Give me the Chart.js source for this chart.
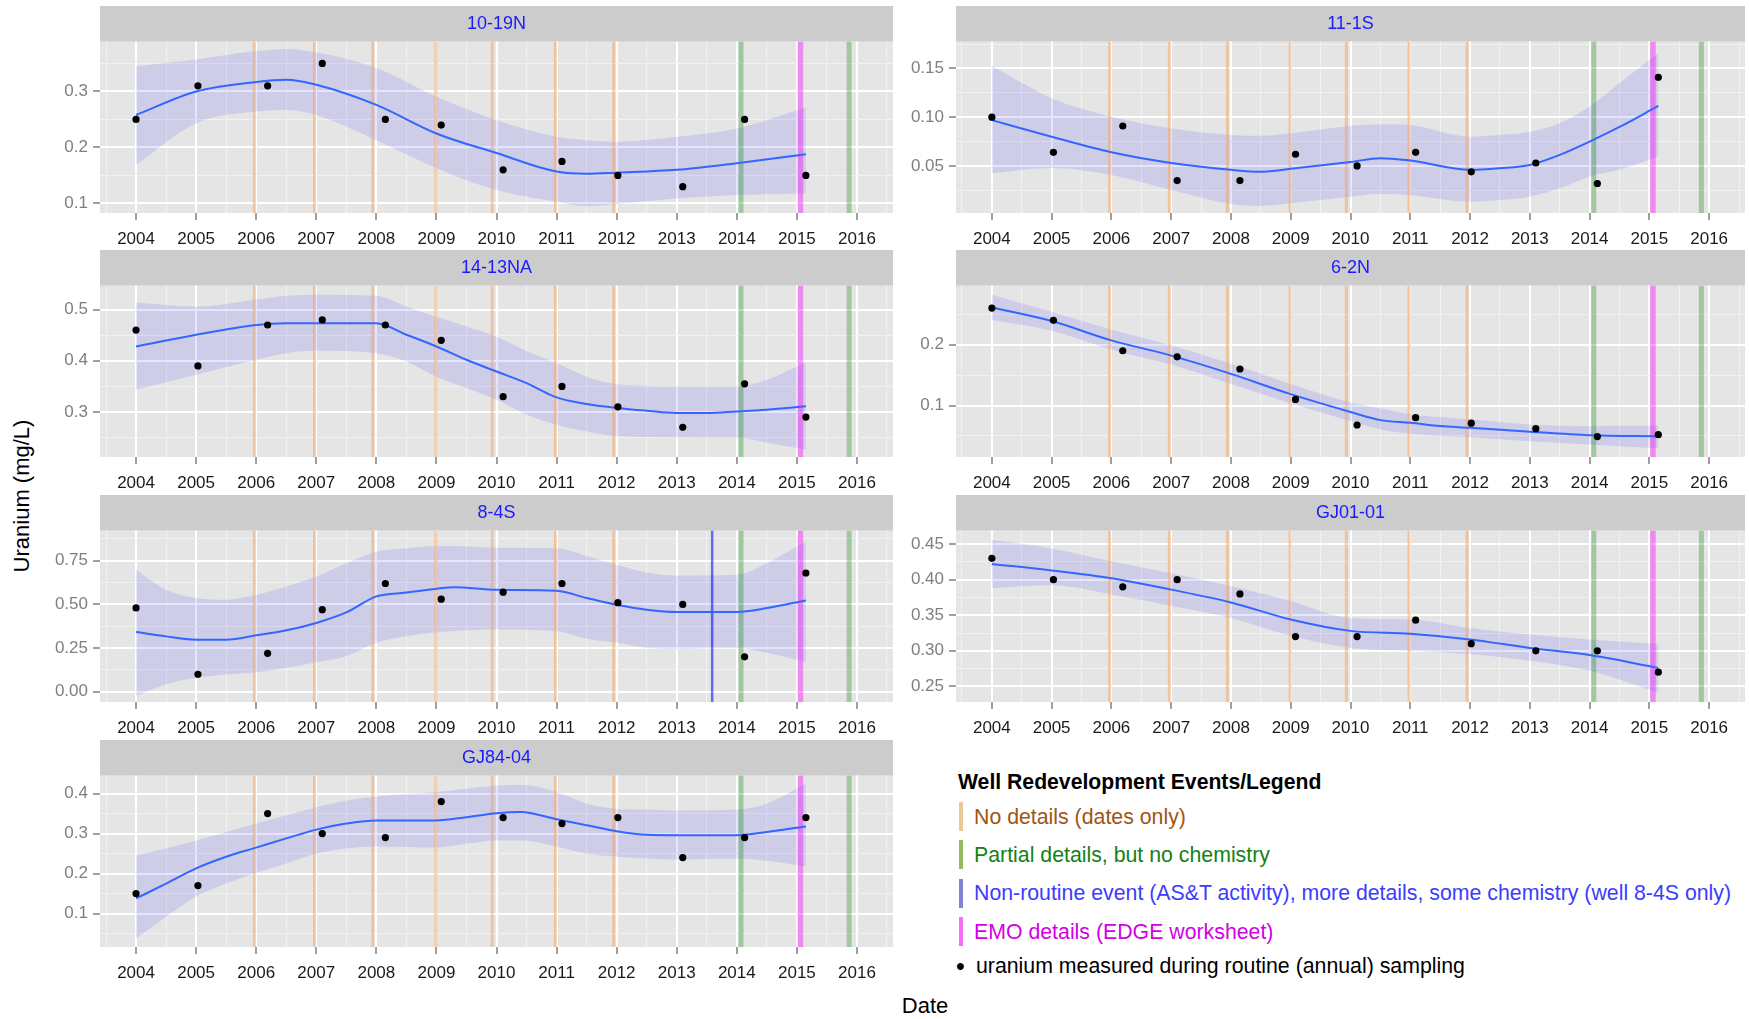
<!DOCTYPE html>
<html>
<head>
<meta charset="utf-8">
<title>Uranium by well, redevelopment events</title>
<script src="https://cdn.jsdelivr.net/npm/chart.js@4.4.1/dist/chart.umd.min.js"></script>
<style>
  html, body { margin: 0; padding: 0; background: #fff; overflow: hidden; }
  body { width: 1749px; height: 1019px; position: relative; font-family: "Liberation Sans", Arial, sans-serif; }
  canvas { position: absolute; }
  .txt { position: absolute; white-space: nowrap; line-height: 24px; }
  .bar { position: absolute; width: 3.5px; height: 29px; }
</style>
</head>
<body>

<div class="txt" id="ytitle" style="left:22px;top:496px;font-size:22px;transform:translate(-50%,-50%) rotate(-90deg);">Uranium (mg/L)</div>
<div class="txt" id="xtitle" style="left:925px;top:1006px;font-size:22px;transform:translate(-50%,-50%);">Date</div>
<div id="legend"></div>

<script>
// axis ticks
const years = [2004, 2005, 2006, 2007, 2008, 2009, 2010, 2011, 2012, 2013, 2014, 2015, 2016];

// annual sampling dates (decimal years), same for every well
const sampleDates = [2004.0, 2005.03, 2006.19, 2007.1, 2008.15, 2009.08, 2010.11, 2011.09, 2012.02, 2013.1, 2014.13, 2015.15];

// redevelopment events (decimal years)
const noDetailDates = [2005.97, 2006.97, 2007.94, 2008.99, 2009.93, 2010.98, 2011.95];
const partialDates = [2014.07, 2015.87];
const emoDates = [2015.06];
const nonRoutineDates = [2013.59]; // well 8-4S only

// 10-19N
const u_10_19N = [0.25, 0.31, 0.31, 0.35, 0.25, 0.24, 0.16, 0.175, 0.15, 0.13, 0.25, 0.15];
const fitX_10_19N = [2004, 2005, 2006, 2006.5, 2007, 2008, 2009, 2010, 2011, 2011.5, 2012, 2013, 2014, 2015.15];
const fit_10_19N = [0.258, 0.30, 0.317, 0.321, 0.312, 0.276, 0.225, 0.19, 0.157, 0.153, 0.155, 0.16, 0.172, 0.188];
const hi_10_19N = [0.345, 0.357, 0.372, 0.376, 0.37, 0.342, 0.291, 0.249, 0.219, 0.213, 0.21, 0.219, 0.234, 0.272];
const lo_10_19N = [0.169, 0.243, 0.264, 0.267, 0.258, 0.213, 0.163, 0.124, 0.103, 0.095, 0.099, 0.109, 0.115, 0.118];

// 11-1S
const u_11_1S = [0.10, 0.064, 0.091, 0.035, 0.035, 0.062, 0.05, 0.064, 0.044, 0.053, 0.032, 0.141];
const fitX_11_1S = [2004, 2005, 2006, 2007, 2008, 2008.5, 2009, 2010, 2010.5, 2011, 2012, 2012.5, 2013, 2013.5, 2014, 2014.5, 2015.15];
const fit_11_1S = [0.097, 0.080, 0.064, 0.053, 0.046, 0.044, 0.047, 0.054, 0.058, 0.0555, 0.046, 0.0477, 0.051, 0.0613, 0.075, 0.090, 0.1116];
const hi_11_1S = [0.1527, 0.1195, 0.1006, 0.0887, 0.0818, 0.081, 0.0836, 0.091, 0.0928, 0.092, 0.080, 0.082, 0.085, 0.094, 0.111, 0.135, 0.166];
const lo_11_1S = [0.0425, 0.048, 0.0408, 0.0254, 0.011, 0.009, 0.0117, 0.0185, 0.0213, 0.020, 0.0133, 0.015, 0.0185, 0.027, 0.039, 0.046, 0.0596];

// 14-13NA
const u_14_13NA = [0.46, 0.39, 0.47, 0.48, 0.47, 0.44, 0.33, 0.35, 0.31, 0.27, 0.355, 0.29];
const fitX_14_13NA = [2004, 2005, 2006, 2006.5, 2007, 2008, 2008.5, 2009, 2009.5, 2010, 2010.5, 2011, 2011.5, 2012, 2012.5, 2013, 2013.5, 2014, 2014.5, 2015.15];
const fit_14_13NA = [0.428, 0.451, 0.47, 0.4735, 0.4735, 0.4735, 0.451, 0.428, 0.402, 0.379, 0.3565, 0.3285, 0.3156, 0.308, 0.3025, 0.298, 0.298, 0.301, 0.3045, 0.311];
const hi_14_13NA = [0.514, 0.506, 0.52, 0.527, 0.529, 0.527, 0.506, 0.486, 0.467, 0.447, 0.419, 0.3955, 0.369, 0.3546, 0.351, 0.35, 0.35, 0.35, 0.363, 0.397];
const lo_14_13NA = [0.3435, 0.373, 0.402, 0.415, 0.4195, 0.415, 0.3987, 0.369, 0.347, 0.324, 0.295, 0.275, 0.262, 0.2525, 0.251, 0.2505, 0.25, 0.25, 0.24, 0.2265];

// 6-2N
const u_6_2N = [0.26, 0.24, 0.19, 0.18, 0.16, 0.11, 0.068, 0.08, 0.071, 0.062, 0.049, 0.052];
const fitX_6_2N = [2004, 2005, 2006, 2007, 2008, 2009, 2010, 2010.5, 2011, 2011.5, 2012, 2013, 2014, 2015.15];
const fit_6_2N = [0.261, 0.2387, 0.207, 0.182, 0.152, 0.1187, 0.0894, 0.076, 0.0718, 0.0662, 0.0635, 0.0569, 0.0513, 0.0496];
const hi_6_2N = [0.2818, 0.254, 0.2249, 0.1988, 0.1685, 0.1353, 0.105, 0.0955, 0.0856, 0.081, 0.0773, 0.069, 0.0662, 0.067];
const lo_6_2N = [0.2403, 0.2227, 0.1917, 0.1673, 0.1353, 0.1033, 0.0745, 0.0607, 0.0536, 0.05, 0.048, 0.0413, 0.0358, 0.0292];

// 8-4S
const u_8_4S = [0.48, 0.10, 0.22, 0.47, 0.62, 0.53, 0.57, 0.62, 0.51, 0.50, 0.20, 0.68];
const fitX_8_4S = [2004, 2004.5, 2005, 2005.5, 2006, 2006.5, 2007, 2007.5, 2008, 2008.5, 2009, 2009.3, 2010, 2011, 2011.5, 2012, 2012.5, 2013, 2014, 2014.5, 2015.15];
const fit_8_4S = [0.342, 0.317, 0.298, 0.298, 0.323, 0.352, 0.394, 0.454, 0.546, 0.568, 0.59, 0.599, 0.584, 0.578, 0.537, 0.498, 0.47, 0.457, 0.457, 0.479, 0.523];
const hi_8_4S = [0.698, 0.584, 0.537, 0.527, 0.555, 0.603, 0.66, 0.736, 0.802, 0.822, 0.835, 0.835, 0.825, 0.822, 0.778, 0.727, 0.683, 0.666, 0.67, 0.736, 0.86];
const lo_8_4S = [-0.025, 0.042, 0.08, 0.099, 0.112, 0.137, 0.169, 0.203, 0.28, 0.317, 0.34, 0.348, 0.356, 0.346, 0.303, 0.28, 0.251, 0.245, 0.251, 0.223, 0.169];

// GJ01-01
const u_GJ01_01 = [0.43, 0.40, 0.39, 0.40, 0.38, 0.32, 0.32, 0.343, 0.31, 0.30, 0.30, 0.27];
const fitX_GJ01_01 = [2004, 2005, 2006, 2007, 2008, 2009, 2010, 2011, 2012, 2013, 2014, 2015.15];
const fit_GJ01_01 = [0.422, 0.413, 0.402, 0.386, 0.368, 0.344, 0.328, 0.324, 0.316, 0.304, 0.294, 0.276];
const hi_GJ01_01 = [0.456, 0.444, 0.426, 0.409, 0.391, 0.37, 0.346, 0.344, 0.332, 0.323, 0.316, 0.31];
const lo_GJ01_01 = [0.388, 0.392, 0.379, 0.363, 0.346, 0.321, 0.304, 0.30, 0.295, 0.286, 0.272, 0.241];

// GJ84-04
const u_GJ84_04 = [0.15, 0.17, 0.35, 0.30, 0.29, 0.38, 0.34, 0.325, 0.34, 0.24, 0.29, 0.34];
const fitX_GJ84_04 = [2004, 2004.5, 2005, 2005.5, 2006, 2006.5, 2007, 2007.5, 2008, 2009, 2009.5, 2010, 2010.4, 2011, 2011.5, 2012, 2012.5, 2013, 2014, 2014.5, 2015.15];
const fit_GJ84_04 = [0.138, 0.175, 0.213, 0.242, 0.265, 0.288, 0.31, 0.325, 0.333, 0.333, 0.341, 0.351, 0.354, 0.336, 0.321, 0.306, 0.297, 0.296, 0.296, 0.304, 0.318];
const hi_GJ84_04 = [0.246, 0.263, 0.283, 0.304, 0.325, 0.346, 0.366, 0.383, 0.393, 0.404, 0.412, 0.42, 0.422, 0.404, 0.375, 0.362, 0.36, 0.358, 0.36, 0.375, 0.425];
const lo_GJ84_04 = [0.038, 0.092, 0.142, 0.175, 0.202, 0.225, 0.25, 0.263, 0.268, 0.265, 0.275, 0.283, 0.283, 0.268, 0.25, 0.242, 0.238, 0.235, 0.238, 0.232, 0.218];

const legendLabels = [
  'No details (dates only)',
  'Partial details, but no chemistry',
  'Non-routine event (AS&T activity), more details, some chemistry (well 8-4S only)',
  'EMO details (EDGE worksheet)'
];
const pointLabel = 'uranium measured during routine (annual) sampling';

const FONT = '"Liberation Sans", Arial, sans-serif';

const panels = [
  { name: '10-19N', col: 0, row: 0, u: u_10_19N, fx: fitX_10_19N, fit: fit_10_19N, hi: hi_10_19N, lo: lo_10_19N, yMin: 0.083, yMax: 0.389, step: 0.1, dec: 1 },
  { name: '11-1S', col: 1, row: 0, u: u_11_1S, fx: fitX_11_1S, fit: fit_11_1S, hi: hi_11_1S, lo: lo_11_1S, yMin: 0.0017, yMax: 0.1776, step: 0.05, dec: 2 },
  { name: '14-13NA', col: 0, row: 1, u: u_14_13NA, fx: fitX_14_13NA, fit: fit_14_13NA, hi: hi_14_13NA, lo: lo_14_13NA, yMin: 0.212, yMax: 0.547, step: 0.1, dec: 1 },
  { name: '6-2N', col: 1, row: 1, u: u_6_2N, fx: fitX_6_2N, fit: fit_6_2N, hi: hi_6_2N, lo: lo_6_2N, yMin: 0.0154, yMax: 0.297, step: 0.1, dec: 1 },
  { name: '8-4S', col: 0, row: 2, u: u_8_4S, fx: fitX_8_4S, fit: fit_8_4S, hi: hi_8_4S, lo: lo_8_4S, yMin: -0.059, yMax: 0.923, step: 0.25, dec: 2, blue: true },
  { name: 'GJ01-01', col: 1, row: 2, u: u_GJ01_01, fx: fitX_GJ01_01, fit: fit_GJ01_01, hi: hi_GJ01_01, lo: lo_GJ01_01, yMin: 0.228, yMax: 0.469, step: 0.05, dec: 2 },
  { name: 'GJ84-04', col: 0, row: 3, u: u_GJ84_04, fx: fitX_GJ84_04, fit: fit_GJ84_04, hi: hi_GJ84_04, lo: lo_GJ84_04, yMin: 0.0165, yMax: 0.445, step: 0.1, dec: 1 }
];

const eventStyles = [
  { dates: noDetailDates, color: 'rgba(244,164,96,0.5)', width: 3 },
  { dates: partialDates, color: 'rgba(0,128,0,0.3)', width: 5 },
  { dates: emoDates, color: 'rgba(255,0,255,0.4)', width: 5.5 }
];
const blueStyle = { dates: nonRoutineDates, color: 'rgba(0,0,255,0.55)', width: 2.5 };

const rowTop = [0, 244, 489, 734];

// x ticks: whole years (labelled) plus half years (minor grid)
const xTickValues = [years[0] - 0.5];
years.forEach(y => xTickValues.push(y, y + 0.5));

function isMajor(v, step) {
  if (v === undefined) return false;
  return Math.abs(v / step - Math.round(v / step)) < 1e-6;
}

// grey panel + strip behind the title
const panelBg = {
  id: 'panelBg',
  beforeDraw(chart) {
    const { ctx, chartArea: a } = chart;
    ctx.save();
    ctx.fillStyle = '#E5E5E5';
    ctx.fillRect(a.left, a.top, a.right - a.left, a.bottom - a.top);
    ctx.fillStyle = '#CCCCCC';
    ctx.fillRect(a.left, 6, a.right - a.left, a.top - 6);
    ctx.restore();
  }
};

// vertical event lines, drawn right after the ribbon
const eventLines = {
  id: 'eventLines',
  afterDatasetDraw(chart, args, opts) {
    if (args.index !== 2) return;
    const { ctx, chartArea: a, scales: { x } } = chart;
    ctx.save();
    ctx.beginPath();
    ctx.rect(a.left, a.top, a.right - a.left, a.bottom - a.top);
    ctx.clip();
    opts.groups.forEach(g => {
      ctx.strokeStyle = g.color;
      ctx.lineWidth = g.width;
      g.dates.forEach(d => {
        const px = x.getPixelForValue(d);
        ctx.beginPath();
        ctx.moveTo(px, a.top);
        ctx.lineTo(px, a.bottom);
        ctx.stroke();
      });
    });
    ctx.restore();
  }
};

panels.forEach(p => {
  const cv = document.createElement('canvas');
  const w = p.col ? 849 : 900;
  cv.width = w;
  cv.height = 260;
  cv.style.left = (p.col ? 900 : 0) + 'px';
  cv.style.top = rowTop[p.row] + 'px';
  document.body.appendChild(cv);

  const half = p.step / 2;
  const yTickValues = [];
  for (let k = Math.ceil(p.yMin / half - 1e-9); k * half <= p.yMax + 1e-9; k++) {
    yTickValues.push(+(k * half).toFixed(6));
  }

  new Chart(cv.getContext('2d'), {
    type: 'line',
    data: {
      datasets: [
        {
          data: sampleDates.map((d, i) => ({ x: d, y: p.u[i] })),
          showLine: false,
          pointRadius: 3.6,
          pointBackgroundColor: '#000',
          pointBorderWidth: 0,
          borderColor: 'rgba(0,0,0,0)'
        },
        {
          data: p.fx.map((d, i) => ({ x: d, y: p.fit[i] })),
          borderColor: '#3366FF',
          borderWidth: 2,
          pointRadius: 0,
          cubicInterpolationMode: 'monotone',
          fill: false
        },
        {
          data: p.fx.map((d, i) => ({ x: d, y: p.hi[i] })),
          borderColor: 'rgba(0,0,0,0)',
          borderWidth: 0,
          pointRadius: 0,
          cubicInterpolationMode: 'monotone',
          backgroundColor: 'rgba(0,0,255,0.1)',
          fill: '+1'
        },
        {
          data: p.fx.map((d, i) => ({ x: d, y: p.lo[i] })),
          borderColor: 'rgba(0,0,0,0)',
          borderWidth: 0,
          pointRadius: 0,
          cubicInterpolationMode: 'monotone',
          fill: false
        }
      ]
    },
    options: {
      responsive: false,
      animation: false,
      events: [],
      layout: { padding: { top: 6, bottom: 16, left: 0, right: p.col ? 0 : 7 } },
      plugins: {
        legend: { display: false },
        tooltip: { enabled: false },
        title: {
          display: true,
          text: p.name,
          fullSize: false,
          color: '#1A1AFF',
          font: { family: FONT, size: 18, weight: 'normal' },
          padding: { top: 7, bottom: 7 }
        },
        eventLines: { groups: p.blue ? [eventStyles[0], blueStyle, eventStyles[1], eventStyles[2]] : eventStyles }
      },
      scales: {
        x: {
          type: 'linear',
          min: 2003.4,
          max: 2016.6,
          afterBuildTicks: s => { s.ticks = xTickValues.map(v => ({ value: v })); },
          afterFit: s => { s.height = 31; },
          border: { display: false },
          grid: {
            color: c => isMajor(c.tick && c.tick.value, 1) ? '#FFFFFF' : '#F2F2F2',
            lineWidth: c => isMajor(c.tick && c.tick.value, 1) ? 2 : 1,
            tickColor: c => isMajor(c.tick && c.tick.value, 1) ? '#7F7F7F' : 'rgba(0,0,0,0)',
            tickLength: 7,
            tickWidth: 1.5
          },
          ticks: {
            autoSkip: false,
            maxRotation: 0,
            padding: 9,
            color: '#1A1A1A',
            font: { family: FONT, size: 17 },
            callback: v => years.includes(v) ? String(v) : ''
          }
        },
        y: {
          type: 'linear',
          min: p.yMin,
          max: p.yMax,
          afterBuildTicks: s => { s.ticks = yTickValues.map(v => ({ value: v })); },
          afterFit: s => { s.width = p.col ? 56 : 100; },
          border: { display: false },
          grid: {
            color: c => isMajor(c.tick && c.tick.value, p.step) ? '#FFFFFF' : '#F2F2F2',
            lineWidth: c => isMajor(c.tick && c.tick.value, p.step) ? 2 : 1,
            tickColor: c => isMajor(c.tick && c.tick.value, p.step) ? '#7F7F7F' : 'rgba(0,0,0,0)',
            tickLength: 7,
            tickWidth: 1.5
          },
          ticks: {
            autoSkip: false,
            padding: 5,
            color: '#7F7F7F',
            font: { family: FONT, size: 17 },
            callback: v => isMajor(v, p.step) ? Number(v).toFixed(p.dec) : ''
          }
        }
      }
    },
    plugins: [panelBg, eventLines]
  });
});

// legend (HTML text)
const legendText = ['#A05514', '#148214', '#3C3CFF', '#D200E6'];
const legendBar = ['#EBC896', '#96B95A', '#8282D2', '#F56EF5'];
const leg = document.getElementById('legend');
function addText(str, left, cy, css) {
  const d = document.createElement('div');
  d.className = 'txt';
  d.textContent = str;
  d.style.left = left + 'px';
  d.style.top = (cy - 12) + 'px';
  Object.assign(d.style, css || {});
  leg.appendChild(d);
  return d;
}
addText('Well Redevelopment Events/Legend', 958, 782, { fontWeight: 'bold', fontSize: '21.2px', color: '#000' });
legendLabels.forEach((lab, i) => {
  const cy = 816.5 + i * 38.4;
  const b = document.createElement('div');
  b.className = 'bar';
  b.style.left = '959px';
  b.style.top = (cy - 14.5) + 'px';
  b.style.background = legendBar[i];
  leg.appendChild(b);
  addText(lab, 974, cy, { fontSize: '21.3px', color: legendText[i] });
});
addText('\u2022', 956, 966, { fontSize: '25px', color: '#000' });
addText(pointLabel, 976, 966, { fontSize: '21.3px', color: '#000' });
</script>
</body>
</html>
